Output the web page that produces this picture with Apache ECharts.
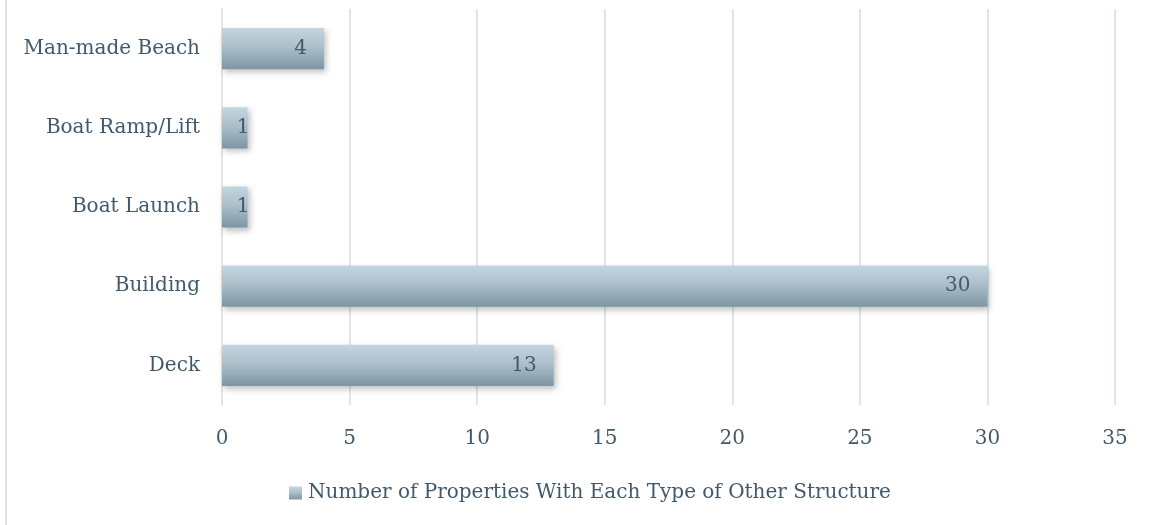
<!DOCTYPE html>
<html><head><meta charset="utf-8">
<script src="https://cdn.jsdelivr.net/npm/echarts@6/dist/echarts.min.js"></script>
<style>html,body{margin:0;padding:0;background:#fff}#c{width:1151px;height:525px}</style>
</head><body><div id="c"></div>
<script>
const categories = ["Deck", "Building", "Boat Launch", "Boat Ramp/Lift", "Man-made Beach"];
const values = [13, 30, 1, 1, 4];
const seriesName = "Number of Properties With Each Type of Other Structure";
const font = "'DejaVu Serif', serif";
const txt = "#415a6b";
const chart = echarts.init(document.getElementById('c'));
const grad = new echarts.graphic.LinearGradient(0, 0, 0, 1, [
  {offset: 0, color: '#c3d6e0'}, {offset: 0.45, color: '#adbfca'}, {offset: 1, color: '#7d95a4'}]);
chart.setOption({
  animation: false,
  graphic: [{type: 'line', shape: {x1: 6, y1: 0, x2: 6, y2: 525}, style: {stroke: '#dde4e8', lineWidth: 2}, silent: true}],
  grid: {left: 222, right: 36, top: 9, bottom: 120},
  xAxis: {type: 'value', min: 0, max: 35, interval: 5,
    axisLine: {show: false}, axisTick: {show: false},
    splitLine: {lineStyle: {color: '#dfe6ea', width: 2}},
    axisLabel: {color: txt, fontFamily: font, fontSize: 20, margin: 24}},
  yAxis: {type: 'category', data: categories,
    axisLine: {show: true, lineStyle: {color: '#dfe6ea', width: 2}}, axisTick: {show: false},
    axisLabel: {color: txt, fontFamily: font, fontSize: 20, margin: 22}},
  legend: {top: 478, left: 284, itemWidth: 13, itemHeight: 13, itemGap: 4,
    icon: 'rect', textStyle: {color: txt, fontFamily: font, fontSize: 20, padding: [0,0,0,1]}},
  series: [{name: seriesName, type: 'bar', barWidth: '52%',
    data: values.map(v => v < 2 ? {value: v, label: {distance: -2}} : v),
    itemStyle: {color: grad, shadowColor: 'rgba(0,0,0,0.25)', shadowBlur: 6, shadowOffsetX: 2, shadowOffsetY: 3},
    label: {show: true, position: 'insideRight', distance: 17, color: txt, fontFamily: font, fontSize: 20}}]
});
</script></body></html>
